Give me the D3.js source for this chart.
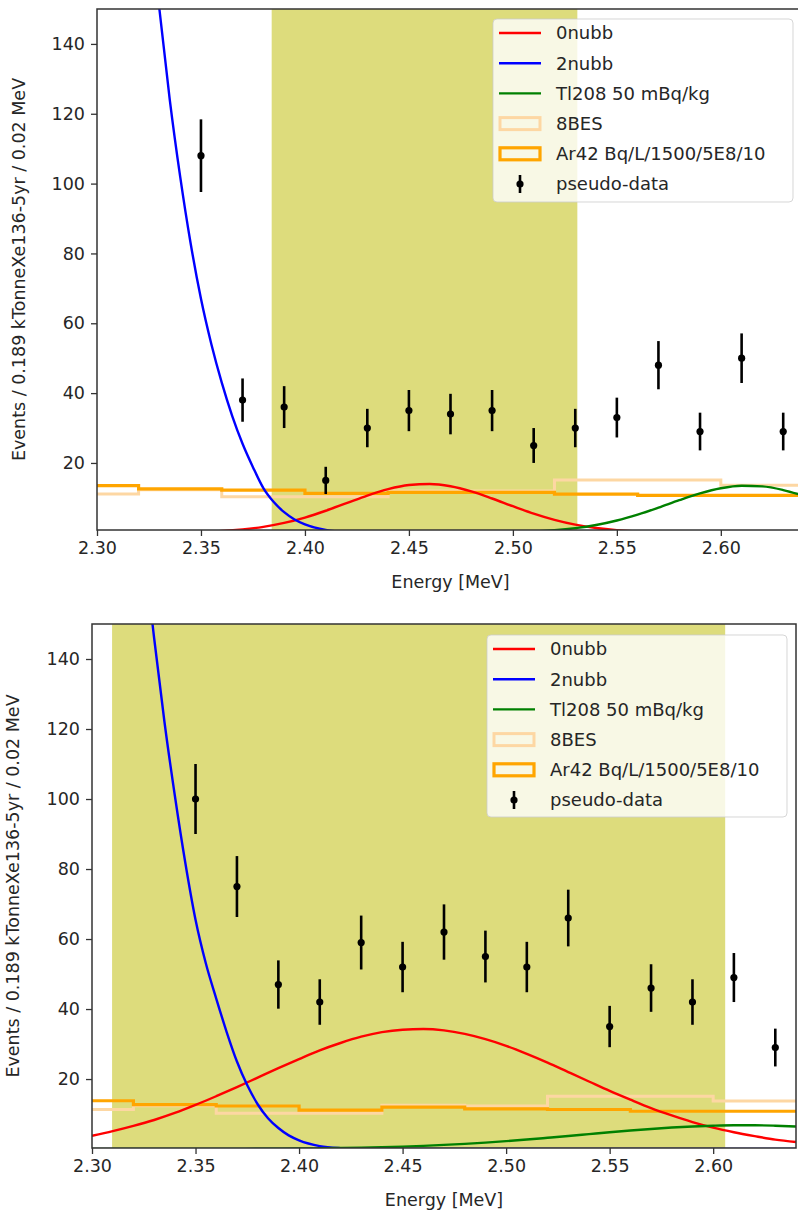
<!DOCTYPE html>
<html>
<head>
<meta charset="utf-8">
<script src="https://cdn.jsdelivr.net/npm/d3@7"></script>
<style>
  html, body { margin: 0; padding: 0; background: #fff; }
  svg { display: block; }
  text { font-family: "DejaVu Sans", sans-serif; fill: #262626; }
</style>
</head>
<body>
<svg id="chart" width="798" height="1212"></svg>
<script>
// ---------------- DATA ----------------
const xTickValues = [2.30, 2.35, 2.40, 2.45, 2.50, 2.55, 2.60];
const yTickValues = [20, 40, 60, 80, 100, 120, 140];

const legendLabels = ["0nubb", "2nubb", "Tl208 50 mBq/kg", "8BES", "Ar42 Bq/L/1500/5E8/10", "pseudo-data"];

// pseudo-data bin centres
const binCenters = [2.35, 2.37, 2.39, 2.41, 2.43, 2.45, 2.47, 2.49, 2.51, 2.53, 2.55, 2.57, 2.59, 2.61, 2.63];
const topCounts    = [108, 38, 36, 15, 30, 35, 34, 35, 25, 30, 33, 48, 29, 50, 29];
const topErrors    = [10.4, 6.2, 6.0, 3.9, 5.5, 5.9, 5.8, 5.9, 5.0, 5.5, 5.7, 6.9, 5.4, 7.1, 5.4];
const bottomCounts = [100, 75, 47, 42, 59, 52, 62, 55, 52, 66, 35, 46, 42, 49, 29];
const bottomErrors = [10.0, 8.7, 6.9, 6.5, 7.7, 7.2, 7.9, 7.4, 7.2, 8.1, 5.9, 6.8, 6.5, 7.0, 5.4];

// model curves sampled every 0.01 MeV
const curveEnergies = [2.30, 2.31, 2.32, 2.33, 2.34, 2.35, 2.36, 2.37, 2.38, 2.39, 2.40, 2.41, 2.42, 2.43, 2.44, 2.45, 2.46, 2.47,
                       2.48, 2.49, 2.50, 2.51, 2.52, 2.53, 2.54, 2.55, 2.56, 2.57, 2.58, 2.59, 2.60, 2.61, 2.62, 2.63, 2.64];
const top0nubb = [0.0, 0.0, 0.02, 0.05, 0.11, 0.25, 0.50, 0.96, 1.70, 2.82, 4.37, 6.31, 8.49, 10.67, 12.51, 13.69, 13.98, 13.32,
                  11.84, 9.82, 7.61, 5.49, 3.70, 2.33, 1.37, 0.75, 0.38, 0.18, 0.08, 0.03, 0.01, 0, 0, 0, 0];
const topTl208 = [0, 0, 0, 0, 0, 0, 0, 0, 0, 0, 0, 0, 0, 0, 0, 0, 0, 0.01,
                  0.03, 0.08, 0.18, 0.38, 0.73, 1.32, 2.23, 3.53, 5.23, 7.22, 9.34, 11.29, 12.75, 13.46, 13.28, 12.24, 10.55];
const bottom0nubb = [3.8, 5.1, 6.6, 8.3, 10.3, 12.6, 15.1, 17.7, 20.4, 23.1, 25.7, 28.2, 30.3, 32.1, 33.4, 34.1, 34.3, 33.9,
                     32.9, 31.4, 29.5, 27.2, 24.7, 22.0, 19.3, 16.6, 14.1, 11.7, 9.6, 7.7, 6.1, 4.8, 3.7, 2.7, 2.0];
const bottomTl208 = [0, 0, 0.01, 0.01, 0.01, 0.02, 0.03, 0.05, 0.07, 0.10, 0.14, 0.21, 0.29, 0.39, 0.53, 0.70, 0.92, 1.18,
                     1.49, 1.85, 2.26, 2.71, 3.21, 3.72, 4.26, 4.80, 5.29, 5.74, 6.14, 6.45, 6.67, 6.79, 6.79, 6.67, 6.45];

// 2nubb sampled more finely near the steep fall
const blueEnergies = [2.32, 2.325, 2.33, 2.335, 2.34, 2.345, 2.35, 2.355, 2.36, 2.365, 2.37, 2.375, 2.38, 2.385, 2.39,
                      2.395, 2.40, 2.41, 2.42, 2.43, 2.45, 2.50, 2.55, 2.60, 2.64];
const top2nubb    = [215, 180, 150, 124, 102, 83, 67, 54, 43, 33.5, 25.5, 18.8, 12.8, 8.8, 5.9, 3.8, 2.4, 0.8, 0.2, 0.04, 0, 0, 0, 0, 0];
const bottom2nubb = [205, 173, 146, 122, 101, 82, 65.5, 53, 43, 33.5, 25, 18.2, 12.8, 8.8, 6.0, 3.9, 2.5, 0.85, 0.25, 0.06, 0, 0, 0, 0, 0];

// step histograms, bin edges every 0.04 MeV
const histEdges = [2.28, 2.32, 2.36, 2.40, 2.44, 2.48, 2.52, 2.56, 2.60, 2.64];
const topAr42    = [13.5, 12.6, 12.2, 11.3, 11.6, 11.6, 11.1, 10.7, 10.7];
const top8BES    = [11.1, 12.3, 10.3, 10.3, 12.0, 12.0, 15.1, 15.1, 13.6];
const bottomAr42 = [13.8, 12.7, 12.3, 11.1, 12.0, 11.5, 11.3, 10.8, 10.8];
const bottom8BES = [11.3, 12.4, 10.2, 10.2, 12.5, 12.3, 15.1, 15.1, 13.7];

// shaded energy windows
const topWindow = [2.384, 2.531];
const bottomWindow = [2.3097, 2.6058];

// ---------------- DRAWING ----------------
const svg = d3.select("#chart");
const COLORS = { red: "#ff0000", blue: "#0000ff", green: "#008000", orange: "#ffa500", light: "#fdd7a3", shade: "#dddc7c" };

function drawPanel(cfg) {
  const g = svg.append("g");
  const x = d3.scaleLinear().domain([2.30, 2.64]).range([cfg.left, cfg.rightEnd]);
  const y = d3.scaleLinear().domain([cfg.yMin, 150]).range([cfg.bottom, cfg.top]);
  const visRight = Math.min(cfg.rightEnd, 798);

  const clipId = "clip" + cfg.id;
  svg.append("defs").append("clipPath").attr("id", clipId)
    .append("rect").attr("x", cfg.left).attr("y", cfg.top)
    .attr("width", visRight - cfg.left).attr("height", cfg.bottom - cfg.top);

  const plot = g.append("g").attr("clip-path", `url(#${clipId})`);

  // shaded window
  plot.append("rect")
    .attr("x", x(cfg.window[0])).attr("y", cfg.top)
    .attr("width", x(cfg.window[1]) - x(cfg.window[0]))
    .attr("height", cfg.bottom - cfg.top)
    .attr("fill", COLORS.shade);

  // step histograms
  const stepLine = d3.line().x(d => x(d[0])).y(d => y(d[1])).curve(d3.curveStepAfter);
  function histPts(vals) {
    const pts = vals.map((v, i) => [histEdges[i], v]);
    pts.push([histEdges[histEdges.length - 1], vals[vals.length - 1]]);
    return pts;
  }
  plot.append("path").attr("d", stepLine(histPts(cfg.bes)))
    .attr("fill", "none").attr("stroke", COLORS.light).attr("stroke-width", 3);
  plot.append("path").attr("d", stepLine(histPts(cfg.ar42)))
    .attr("fill", "none").attr("stroke", COLORS.orange).attr("stroke-width", 3.2);

  // curves
  const line = d3.line().x(d => x(d[0])).y(d => y(d[1])).curve(d3.curveMonotoneX);
  plot.append("path").attr("d", line(curveEnergies.map((e, i) => [e, cfg.signal[i]])))
    .attr("fill", "none").attr("stroke", COLORS.red).attr("stroke-width", 2.4);
  plot.append("path").attr("d", line(blueEnergies.map((e, i) => [e, cfg.nu2[i]])))
    .attr("fill", "none").attr("stroke", COLORS.blue).attr("stroke-width", 2.4);
  plot.append("path").attr("d", line(curveEnergies.map((e, i) => [e, cfg.tl[i]])))
    .attr("fill", "none").attr("stroke", COLORS.green).attr("stroke-width", 2.4);

  // pseudo-data
  const pts = plot.append("g");
  binCenters.forEach((c, i) => {
    pts.append("line")
      .attr("x1", x(c)).attr("x2", x(c))
      .attr("y1", y(cfg.counts[i] - cfg.errors[i])).attr("y2", y(cfg.counts[i] + cfg.errors[i]))
      .attr("stroke", "#000").attr("stroke-width", 2.6);
    pts.append("circle").attr("cx", x(c)).attr("cy", y(cfg.counts[i])).attr("r", 3.6).attr("fill", "#000");
  });

  // spines
  g.append("rect").attr("x", cfg.left).attr("y", cfg.top)
    .attr("width", cfg.rightEnd - cfg.left).attr("height", cfg.bottom - cfg.top)
    .attr("fill", "none").attr("stroke", "#333").attr("stroke-width", 1.5);

  // x axis
  const xAxis = d3.axisBottom(x).tickValues(xTickValues).tickFormat(d3.format(".2f")).tickSize(6).tickPadding(6);
  const xa = g.append("g").attr("transform", `translate(0,${cfg.bottom})`).call(xAxis);
  xa.select(".domain").remove();
  xa.selectAll("line").attr("stroke", "#333").attr("stroke-width", 1.3);
  xa.selectAll("text").attr("font-size", 17.5).attr("font-family", "DejaVu Sans").attr("fill", "#333");

  // y axis
  const yAxis = d3.axisLeft(y).tickValues(yTickValues).tickSize(6).tickPadding(6);
  const ya = g.append("g").attr("transform", `translate(${cfg.left},0)`).call(yAxis);
  ya.select(".domain").remove();
  ya.selectAll("line").attr("stroke", "#333").attr("stroke-width", 1.3);
  ya.selectAll("text").attr("font-size", 17.5).attr("font-family", "DejaVu Sans").attr("fill", "#333");

  // axis labels
  g.append("text").attr("x", (cfg.left + cfg.rightEnd) / 2).attr("y", cfg.bottom + 58)
    .attr("text-anchor", "middle").attr("font-size", 17.5).text("Energy [MeV]");
  g.append("text")
    .attr("transform", `translate(${cfg.ylabelX},${(cfg.top + cfg.bottom) / 2}) rotate(-90)`)
    .attr("text-anchor", "middle").attr("font-size", 17.5)
    .text("Events / 0.189 kTonneXe136-5yr / 0.02 MeV");

  // legend
  const L = cfg.legend;
  const lg = g.append("g").attr("transform", `translate(${L.x},${L.y})`);
  lg.append("rect").attr("x", 0).attr("y", 0).attr("width", L.w).attr("height", L.h).attr("rx", 4)
    .attr("fill", "#fff").attr("fill-opacity", 0.8).attr("stroke", "#cccccc").attr("stroke-opacity", 0.8);
  const rowY = i => 14 + i * 30.2;
  const hx0 = 6, hx1 = 48, tx = 63;
  const lineCols = [COLORS.red, COLORS.blue, COLORS.green];
  legendLabels.forEach((lab, i) => {
    const yy = rowY(i);
    if (i < 3) {
      lg.append("line").attr("x1", hx0).attr("x2", hx1).attr("y1", yy).attr("y2", yy)
        .attr("stroke", lineCols[i]).attr("stroke-width", 2.4);
    } else if (i === 3) {
      lg.append("rect").attr("x", hx0 + 1).attr("y", yy - 6).attr("width", hx1 - hx0 - 2).attr("height", 12)
        .attr("fill", "none").attr("stroke", COLORS.light).attr("stroke-width", 3);
    } else if (i === 4) {
      lg.append("rect").attr("x", hx0 + 1).attr("y", yy - 6).attr("width", hx1 - hx0 - 2).attr("height", 12)
        .attr("fill", "none").attr("stroke", COLORS.orange).attr("stroke-width", 3.2);
    } else {
      const cx = (hx0 + hx1) / 2;
      lg.append("line").attr("x1", cx).attr("x2", cx).attr("y1", yy - 9).attr("y2", yy + 9)
        .attr("stroke", "#000").attr("stroke-width", 2.6);
      lg.append("circle").attr("cx", cx).attr("cy", yy).attr("r", 3.6).attr("fill", "#000");
    }
    lg.append("text").attr("x", tx).attr("y", yy).attr("dy", "0.35em")
      .attr("font-size", 18).text(lab);
  });
}

drawPanel({
  id: "top", left: 97, rightEnd: 804, top: 9, bottom: 530, yMin: 0.8, ylabelX: 25,
  window: topWindow, counts: topCounts, errors: topErrors,
  signal: top0nubb, nu2: top2nubb, tl: topTl208, ar42: topAr42, bes: top8BES,
  legend: { x: 493, y: 19, w: 300, h: 183 }
});
drawPanel({
  id: "bottom", left: 92, rightEnd: 796, top: 624, bottom: 1148, yMin: 0.3, ylabelX: 19,
  window: bottomWindow, counts: bottomCounts, errors: bottomErrors,
  signal: bottom0nubb, nu2: bottom2nubb, tl: bottomTl208, ar42: bottomAr42, bes: bottom8BES,
  legend: { x: 487, y: 635, w: 300, h: 182 }
});
</script>
</body>
</html>
